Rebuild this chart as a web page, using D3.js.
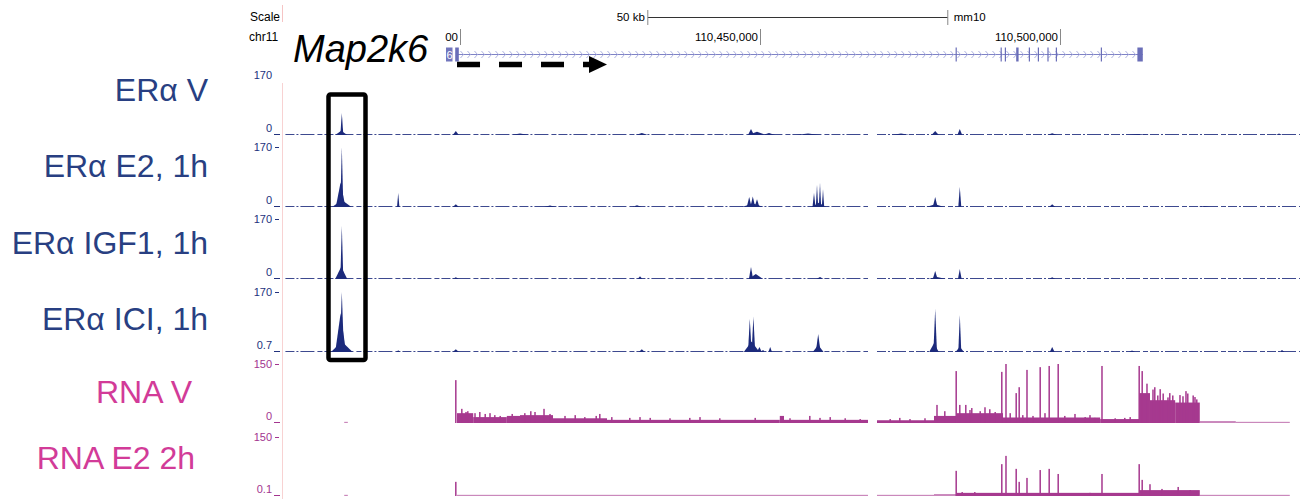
<!DOCTYPE html>
<html>
<head>
<meta charset="utf-8">
<script src="https://cdn.jsdelivr.net/npm/d3@7"></script>
<style>
  body { margin: 0; background: #fff; }
  text { font-family: "Liberation Sans", Arial, sans-serif; }
</style>
</head>
<body>
<div id="chart"></div>
<script>
// ---- data (positions in kb on chr11, mm10) ----
var trackNames = ["ERα V", "ERα E2, 1h", "ERα IGF1, 1h", "ERα ICI, 1h", "RNA V", "RNA E2 2h"];
var trackMax = [170, 170, 170, 170, 150, 150];
var trackMinLabels = ["0", "0", "0", "0.7", "0", "0.1"];
var rulerTicks = [110400, 110450, 110500];

// ChIP peaks: [center kb, value, half width kb]
var erVPeaks = [
  [110380.3, 62, 0.25], [110380.2, 12, 1.0], [110399.3, 11, 0.5], [110410, 4, 1.5],
  [110430.3, 6, 1.0], [110448.5, 17, 0.5], [110449.5, 9, 1.5], [110451.5, 6, 1.0],
  [110458, 4, 2], [110473.5, 4, 1.5], [110479.2, 11, 0.6], [110483.3, 17, 0.4],
  [110498.7, 5, 0.8], [110513, 3, 2], [110536.5, 4, 0.5]
];
var erE2Peaks = [
  [110380.3, 185, 0.25], [110380.1, 70, 0.8], [110380.3, 20, 1.6], [110389.7, 40, 0.2],
  [110399.3, 8, 0.5], [110415, 4, 1], [110429.5, 5, 0.8], [110448.2, 28, 0.4],
  [110448.8, 30, 0.4], [110449.5, 22, 0.4], [110448.8, 10, 1.8], [110459.0, 40, 0.25],
  [110459.5, 62, 0.2], [110460.0, 68, 0.2], [110460.5, 50, 0.2], [110459.8, 12, 1.2],
  [110479.2, 28, 0.4], [110479.2, 8, 1.5], [110483.3, 57, 0.25], [110498.7, 8, 0.5],
  [110524, 3, 1]
];
var erIGF1Peaks = [
  [110380.3, 150, 0.25], [110380.2, 35, 1.0], [110399.3, 5, 0.5], [110430, 8, 0.4],
  [110448.5, 34, 0.35], [110449.3, 14, 1.2], [110460, 6, 0.6], [110479.2, 23, 0.4],
  [110479.5, 6, 1.5], [110483.3, 28, 0.3], [110498.7, 5, 0.5]
];
var erICIPeaks = [
  [110380.3, 185, 0.35], [110380.1, 110, 0.9], [110380.3, 30, 1.8], [110389.7, 5, 0.3],
  [110399.3, 8, 0.5], [110430.3, 8, 0.5], [110448.3, 94, 0.3], [110448.9, 100, 0.3],
  [110448.6, 30, 1.3], [110449.9, 14, 0.4], [110450.5, 6, 0.4], [110451.7, 14, 0.3],
  [110459.7, 51, 0.4], [110459.7, 20, 0.9], [110479.2, 122, 0.3], [110479.0, 25, 0.8],
  [110483.3, 105, 0.25], [110483.3, 15, 0.7], [110498.7, 14, 0.4], [110512, 4, 0.5],
  [110537, 6, 0.4]
];
// covered stretches of the ChIP tracks (thin baseline)
var chipCovered = [[110370.9, 110468.0], [110469.5, 110540.0]];

// RNA coverage: [start kb, end kb, value]
var rnaVLevels = [
  [110380.7, 110381.3, 3], [110399.5, 110402.2, 25], [110402.2, 110407.8, 15],
  [110407.8, 110410.0, 18], [110410.0, 110415.5, 20], [110415.5, 110424.5, 12],
  [110424.5, 110453.3, 8], [110453.3, 110454.0, 18], [110454.0, 110468.0, 8],
  [110469.5, 110479.0, 7], [110479.0, 110482.7, 18], [110482.7, 110490.5, 25],
  [110490.5, 110506.7, 14], [110506.7, 110513.2, 10], [110513.2, 110515.0, 76],
  [110515.0, 110519.2, 58], [110519.2, 110523.3, 52], [110523.3, 110529.3, 5],
  [110529.3, 110538.3, 3]
];
// RNA spikes: [kb, value]
var rnaVSpikes = [
  [110399.3, 109], [110400.3, 36], [110401.0, 28], [110401.3, 30], [110402.5, 25],
  [110403.3, 28], [110404.2, 23], [110405.0, 25], [110405.8, 20], [110406.7, 18],
  [110408.7, 23], [110410.8, 25], [110411.8, 30], [110412.5, 28], [110414.0, 36],
  [110415.0, 23], [110417.5, 18], [110419.2, 20], [110420.8, 15], [110422.7, 18],
  [110423.3, 23], [110425.3, 15], [110428.3, 13], [110430.0, 15], [110431.7, 13],
  [110435.0, 12], [110438.3, 13], [110440.0, 15], [110443.3, 12], [110449.2, 13],
  [110455.0, 12], [110458.3, 18], [110460.0, 13], [110461.7, 15], [110464.2, 12],
  [110466.7, 10], [110471.7, 10], [110473.3, 13], [110475.0, 10], [110477.5, 12],
  [110479.5, 46], [110480.8, 30], [110482.7, 132], [110483.3, 46], [110484.3, 46],
  [110485.0, 33], [110485.3, 38], [110486.7, 30], [110487.5, 40], [110488.3, 35],
  [110489.2, 28], [110490.3, 130], [110491.0, 155], [110491.7, 25], [110492.7, 76],
  [110493.2, 91], [110493.8, 20], [110494.5, 135], [110495.5, 18], [110496.7, 142],
  [110497.5, 25], [110498.2, 145], [110499.7, 155], [110500.8, 18], [110502.5, 23],
  [110504.2, 15], [110505.0, 20], [110505.8, 13], [110507.0, 145], [110509.2, 12],
  [110510.8, 13], [110511.7, 15], [110513.2, 145], [110513.7, 132], [110514.5, 100],
  [110515.5, 85], [110515.8, 91], [110516.3, 70], [110516.7, 86], [110517.2, 75],
  [110518.0, 65], [110518.3, 76], [110518.8, 70], [110520.0, 71], [110520.5, 68],
  [110521.0, 81], [110521.3, 75], [110522.2, 70], [110522.5, 66], [110522.8, 60]
];
var rnaE2Levels = [
  [110380.7, 110381.3, 3], [110399.5, 110468.0, 3], [110469.5, 110479.0, 3],
  [110479.0, 110482.7, 5], [110482.7, 110513.2, 8], [110513.2, 110523.3, 15],
  [110523.3, 110538.3, 3]
];
var rnaE2Spikes = [
  [110399.3, 36], [110482.7, 64], [110483.7, 10], [110485.8, 10], [110490.3, 81],
  [110491.0, 102], [110492.7, 69], [110493.2, 36], [110494.5, 46], [110496.7, 66],
  [110498.2, 69], [110499.7, 56], [110505.0, 8], [110507.0, 56], [110513.2, 81],
  [110513.7, 41], [110515.0, 30], [110517.0, 18], [110519.7, 23], [110521.7, 15]
];

// gene model of Map2k6
var geneSpan = [110399.5, 110513.8];
var geneExons = [
  [110399.2, 110399.8], [110482.6, 110482.8], [110490.1, 110490.3], [110490.8, 110491.0],
  [110492.7, 110493.1], [110494.8, 110495.0], [110496.3, 110496.5], [110497.9, 110498.1],
  [110499.3, 110499.5], [110506.8, 110507.0], [110512.9, 110513.8]
];

var chipPeaks = [erVPeaks, erE2Peaks, erIGF1Peaks, erICIPeaks];
var rnaLevels = [rnaVLevels, rnaE2Levels];
var rnaSpikes = [rnaVSpikes, rnaE2Spikes];

// ---- layout ----
var width = 1301, height = 499;
var trackTop = [75, 147, 219, 292, 364, 437];
var trackBase = [135, 207, 279, 352, 423, 496];
var labelY = [101, 177, 254, 330, 403, 469];
var labelRight = [208, 208, 208, 208, 192, 195];
var navy = "#1c2a7c", magenta = "#a6398f";
var axisColor = ["#22327d", "#22327d", "#22327d", "#22327d", "#a3358f", "#a3358f"];
var labelColor = ["#283f82", "#283f82", "#283f82", "#283f82", "#d23b98", "#d23b98"];
var rulerLeft = 445; // ruler text left of this is covered by the gene name

var x = d3.scaleLinear().domain([110370.83, 110540.17]).range([285, 1301]);

var svg = d3.select("#chart").append("svg")
    .attr("width", width)
    .attr("height", height);

var defs = svg.append("defs");
defs.append("clipPath").attr("id", "dataClip")
  .append("rect").attr("x", 285).attr("y", 0).attr("width", 1016).attr("height", height);
defs.append("clipPath").attr("id", "leftClip")
  .append("rect").attr("x", 0).attr("y", 0).attr("width", 282).attr("height", height);

// pink separator lines
svg.append("line").attr("x1", 282.5).attr("x2", 282.5).attr("y1", 5).attr("y2", 22)
    .attr("stroke", "#f6c4c4");
svg.append("line").attr("x1", 282.5).attr("x2", 282.5).attr("y1", 83).attr("y2", height)
    .attr("stroke", "#f8d2d2");

// scale / chromosome labels (clipped like the browser side panel)
var side = svg.append("g").attr("clip-path", "url(#leftClip)");
side.append("text").attr("x", 250).attr("y", 21).attr("font-size", 12).text("Scale");
side.append("text").attr("x", 249).attr("y", 41).attr("font-size", 12).text("chr11");

// ---- scale bar ----
var barStart = 110431.3, barLen = 50;
var topG = svg.append("g").attr("clip-path", "url(#dataClip)");
topG.append("line").attr("x1", x(barStart)).attr("x2", x(barStart + barLen))
    .attr("y1", 17.5).attr("y2", 17.5).attr("stroke", "#333");
[barStart, barStart + barLen].forEach(function(k) {
  topG.append("line").attr("x1", x(k)).attr("x2", x(k)).attr("y1", 10).attr("y2", 25)
      .attr("stroke", "#888");
});
topG.append("text").attr("x", x(barStart) - 3).attr("y", 21).attr("font-size", 11.5)
    .attr("text-anchor", "end").text(barLen + " kb");
topG.append("text").attr("x", x(barStart + barLen) + 6).attr("y", 21).attr("font-size", 11.5)
    .text("mm10");

// ---- base position ruler ----
var fmt = d3.format(",");
var ruler = svg.selectAll(".rtick").data(rulerTicks).enter().append("g").attr("class", "rtick");
ruler.append("line")
    .attr("x1", function(d) { return x(d) + 0.5; }).attr("x2", function(d) { return x(d) + 0.5; })
    .attr("y1", 29).attr("y2", 45).attr("stroke", "#888");
ruler.append("text")
    .attr("x", function(d) { return x(d) - 2; }).attr("y", 41)
    .attr("font-size", 11.5).attr("text-anchor", "end")
    .text(function(d) { return fmt(d * 1000); })
    .each(function(d) {
      // drop the leading characters that sit under the gene name annotation
      var t = d3.select(this), s = t.text();
      while (s.length && x(d) - 2 - this.getComputedTextLength() < rulerLeft) {
        s = s.slice(1);
        t.text(s);
      }
    });

// ---- gene track ----
var gy = 54.5;
var gene = topG.append("g");
gene.append("line").attr("x1", x(geneSpan[0])).attr("x2", x(geneSpan[1]))
    .attr("y1", gy).attr("y2", gy).attr("stroke", "#7f83c6");
gene.selectAll(".chev").data(d3.range(x(geneSpan[0]) + 5, x(geneSpan[1]) - 3, 7))
  .enter().append("path")
    .attr("d", function(d) { return "M" + (d - 1.5) + "," + (gy - 3.5) + "L" + (d + 1.5) + "," + gy + "L" + (d - 1.5) + "," + (gy + 3.5); })
    .attr("fill", "none").attr("stroke", "#a7aade").attr("stroke-width", 0.9);
gene.selectAll(".exon").data(geneExons).enter().append("rect")
    .attr("x", function(d) { return x(d[0]); })
    .attr("width", function(d) { return Math.max(1, x(d[1]) - x(d[0])); })
    .attr("y", 47.5).attr("height", 14)
    .attr("fill", "#6a6eb8");
// clipped gene name box
gene.append("rect").attr("x", 446).attr("y", 47.5).attr("width", 6.5).attr("height", 14)
    .attr("fill", "#7276bd");
gene.append("text").attr("x", 446.5).attr("y", 58.5).attr("font-size", 11)
    .attr("fill", "#fff").text("6");

svg.append("text").attr("x", 293).attr("y", 62).attr("font-size", 38)
    .attr("font-style", "italic").attr("fill", "#000").text("Map2k6");

// direction arrow
var arrowStart = x(geneSpan[0]), arrowEnd = 607;
svg.append("line").attr("x1", arrowStart).attr("x2", arrowEnd - 15)
    .attr("y1", 64.5).attr("y2", 64.5)
    .attr("stroke", "#000").attr("stroke-width", 5.5).attr("stroke-dasharray", "23,19");
svg.append("path")
    .attr("d", "M" + (arrowEnd - 18) + ",56L" + arrowEnd + ",64.5L" + (arrowEnd - 18) + ",73Z")
    .attr("fill", "#000");

// ---- signal tracks ----
var area = d3.area().x(function(d) { return x(d[0]); });

trackNames.forEach(function(name, i) {
  var y = d3.scaleLinear().domain([0, trackMax[i]]).range([trackBase[i], trackTop[i]]).clamp(true);
  var g = svg.append("g").attr("clip-path", "url(#dataClip)");
  var isChip = i < 4;
  var color = isChip ? navy : magenta;

  if (isChip) {
    g.selectAll(".cov").data(chipCovered).enter().append("line")
        .attr("x1", function(d) { return x(d[0]); }).attr("x2", function(d) { return x(d[1]); })
        .attr("y1", trackBase[i] - 0.5).attr("y2", trackBase[i] - 0.5)
        .attr("stroke", color).attr("stroke-width", 1.1).attr("opacity", 0.85)
        .attr("stroke-dasharray", "9,2,2,2,14,3,5,2");
    area.y0(trackBase[i]).y1(function(d) { return y(d[1]); });
    g.selectAll(".peak").data(chipPeaks[i]).enter().append("path")
        .attr("d", function(p) { return area([[p[0] - p[2], 0], [p[0], p[1]], [p[0] + p[2], 0]]); })
        .attr("fill", color);
  } else {
    var r = i - 4;
    g.selectAll(".lvl").data(rnaLevels[r]).enter().append("rect")
        .attr("x", function(d) { return x(d[0]); })
        .attr("width", function(d) { return Math.max(1, x(d[1]) - x(d[0])); })
        .attr("y", function(d) { return y(d[2]); })
        .attr("height", function(d) { return trackBase[i] - y(d[2]); })
        .attr("fill", color)
        .attr("opacity", function(d) { return d[2] < 6 ? 0.6 : 1; });
    g.selectAll(".spk").data(rnaSpikes[r]).enter().append("rect")
        .attr("x", function(d) { return x(d[0]) - 0.75; })
        .attr("width", 1.5)
        .attr("y", function(d) { return y(d[1]); })
        .attr("height", function(d) { return trackBase[i] - y(d[1]); })
        .attr("fill", color);
  }

  // y range labels
  svg.append("text").attr("x", 272).attr("y", trackTop[i] + 4).attr("font-size", 11)
      .attr("text-anchor", "end").attr("fill", axisColor[i]).text(trackMax[i]);
  if (i > 0) {
    svg.append("line").attr("x1", 275).attr("x2", 279)
        .attr("y1", trackTop[i] + 0.5).attr("y2", trackTop[i] + 0.5).attr("stroke", axisColor[i]);
  }
  svg.append("text").attr("x", 272).attr("y", trackBase[i] - 3).attr("font-size", 11)
      .attr("text-anchor", "end").attr("fill", axisColor[i]).text(trackMinLabels[i]);
  svg.append("line").attr("x1", 274).attr("x2", 280)
      .attr("y1", trackBase[i] - 0.5).attr("y2", trackBase[i] - 0.5).attr("stroke", axisColor[i]);

  // sample label
  svg.append("text").attr("x", labelRight[i]).attr("y", labelY[i])
      .attr("font-size", 32).attr("text-anchor", "end").attr("fill", labelColor[i])
      .text(name);
});

// highlight box around the promoter peak
svg.append("rect").attr("x", 328.5).attr("y", 94.5).attr("width", 37).attr("height", 265.5)
    .attr("rx", 2).attr("fill", "none").attr("stroke", "#000").attr("stroke-width", 4.5);
</script>
</body>
</html>
